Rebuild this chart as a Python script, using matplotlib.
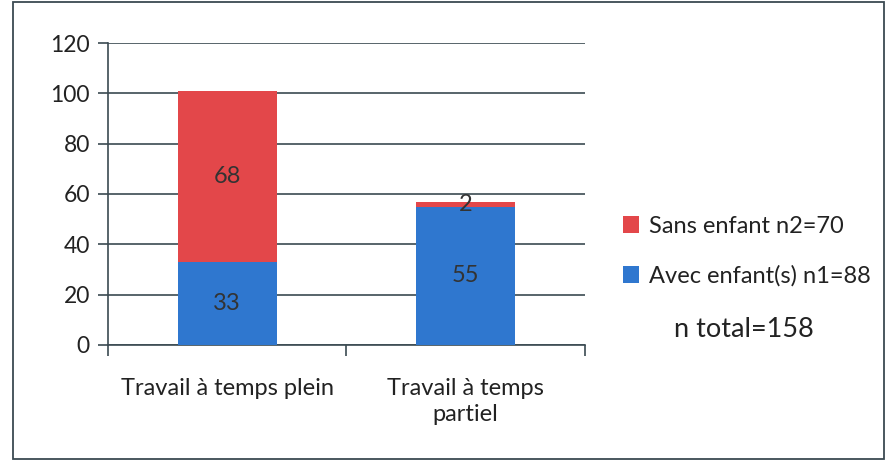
import matplotlib.pyplot as plt
from matplotlib.patches import Rectangle

# data
categories = ["Travail à temps plein", "Travail à temps\npartiel"]
avec_enfant = [33, 55]
sans_enfant = [68, 2]
label_avec = "Avec enfant(s) n1=88"
label_sans = "Sans enfant n2=70"
note_total = "n total=158"
y_ticks = [0, 20, 40, 60, 80, 100, 120]

blue = "#2f77cf"
red = "#e3474a"
line_col = "#3b4a52"
text_col = "#222222"

plt.rcParams['font.family'] = ['Lato', 'DejaVu Sans']

fig = plt.figure(figsize=(8.93, 4.68), dpi=100)
ax = fig.add_axes([0.121, 0.263, 0.534, 0.645])

x = list(range(len(categories)))
width = 0.415
b1 = ax.bar(x, avec_enfant, width, color=blue, label=label_avec, zorder=3)
b2 = ax.bar(x, sans_enfant, width, bottom=avec_enfant, color=red, label=label_sans, zorder=3)

# value labels, centred in each segment
for i in x:
    ax.text(i, avec_enfant[i] / 2, str(avec_enfant[i]), ha="center", va="center",
            fontsize=17, color="#333333", zorder=4)
    ax.text(i, avec_enfant[i] + sans_enfant[i] / 2, str(sans_enfant[i]),
            ha="center", va="center", fontsize=17, color="#333333", zorder=4)

ax.set_xlim(-0.5, 1.5)
ax.set_ylim(0, 120)
ax.set_yticks(y_ticks)
ax.tick_params(axis="y", labelsize=16.5, length=7, color=line_col, width=1.2,
               labelcolor=text_col, pad=6)
ax.yaxis.grid(True, color=line_col, linewidth=1.2, zorder=0)

ax.set_xticks([-0.5, 0.5, 1.5])
ax.set_xticklabels([])
ax.set_xticks(x, minor=True)
ax.set_xticklabels(categories, minor=True, fontsize=17, color=text_col,
                   linespacing=1.3)
ax.tick_params(axis="x", which="major", length=8, color=line_col, width=1.2)
ax.tick_params(axis="x", which="minor", length=0, pad=24)

for side in ["top", "right"]:
    ax.spines[side].set_visible(False)
for side in ["left", "bottom"]:
    ax.spines[side].set_color(line_col)
    ax.spines[side].set_linewidth(1.2)

# legend, reversed order like the original
leg = ax.legend(handles=[b2, b1], labels=[label_sans, label_avec],
                loc="center left", bbox_to_anchor=(1.035, 0.31), frameon=False,
                fontsize=17, handlelength=0.7, handleheight=0.7,
                labelspacing=1.2, handletextpad=0.4)
for t in leg.get_texts():
    t.set_color(text_col)

fig.text(0.833, 0.297, note_total, ha="center", va="center", fontsize=19.5,
         color=text_col)

# outer frame of the chart
fig.patches.append(Rectangle((0.015, 0.02), 0.975, 0.975, transform=fig.transFigure,
                             fill=False, edgecolor=line_col, linewidth=1.3))

fig.savefig("out.png", dpi=100)
